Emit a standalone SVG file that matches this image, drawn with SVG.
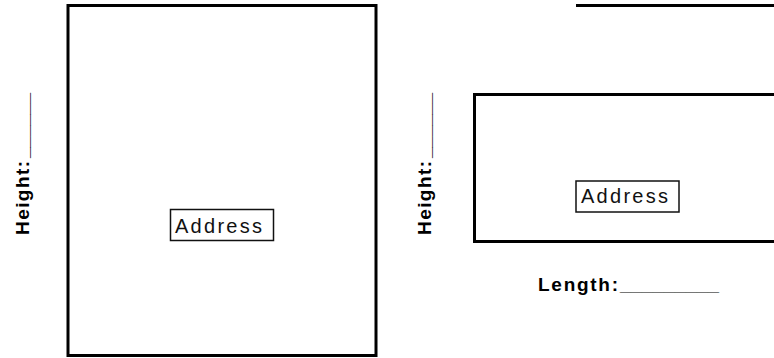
<svg xmlns="http://www.w3.org/2000/svg" width="774" height="358" viewBox="0 0 774 358">
<style>
.frame{fill:#fff;stroke:#000;stroke-width:3}
.box{fill:#fff;stroke:#111;stroke-width:1.5}
.lbl{font-family:"Liberation Sans",Arial,sans-serif;font-size:19px;font-weight:bold;fill:#000}
.addr{font-family:"Liberation Sans",Arial,sans-serif;font-size:20px;fill:#111}
</style>
<rect width="774" height="358" fill="#fff"/>
<g id="portrait">
<rect class="frame" x="68" y="5.5" width="308" height="350"/>
<g id="addr1">
<rect class="box" x="170.5" y="209.5" width="103" height="31"/>
<text class="addr" x="175" y="233" textLength="87" lengthAdjust="spacing">Address</text>
</g>
<text id="height1" class="lbl" transform="translate(29,235) rotate(-90)"><tspan x="0" textLength="74" lengthAdjust="spacing">Height:</tspan><tspan x="77" textLength="65" lengthAdjust="spacingAndGlyphs">______</tspan></text>
</g>
<g id="landscape">
<line x1="576" y1="5.5" x2="774" y2="5.5" stroke="#000" stroke-width="3"/>
<rect class="frame" x="474.5" y="94.5" width="320" height="147"/>
<g id="addr2">
<rect class="box" x="576" y="181" width="103" height="31"/>
<text class="addr" x="581" y="203" textLength="87" lengthAdjust="spacing">Address</text>
</g>
<text id="height2" class="lbl" transform="translate(431,235) rotate(-90)"><tspan x="0" textLength="74" lengthAdjust="spacing">Height:</tspan><tspan x="77" textLength="65" lengthAdjust="spacingAndGlyphs">______</tspan></text>
<text id="length" class="lbl" x="538" y="291"><tspan x="538" textLength="80" lengthAdjust="spacing">Length:</tspan><tspan x="620" textLength="99" lengthAdjust="spacingAndGlyphs">_________</tspan></text>
</g>
<g id="connectors"/>
</svg>
